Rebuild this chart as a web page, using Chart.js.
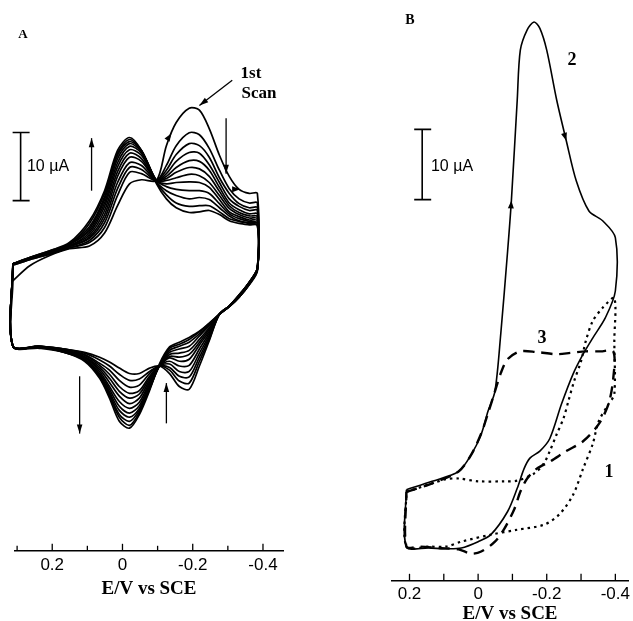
<!DOCTYPE html>
<html><head><meta charset="utf-8">
<script src="https://cdn.jsdelivr.net/npm/chart.js@4.4.1/dist/chart.umd.min.js"></script>
<style>
html,body{margin:0;padding:0;background:#fff;overflow:hidden;width:633px;height:621px;}
#wrap{position:relative;width:633px;height:621px;overflow:hidden;background:#fff;}
canvas{position:absolute;top:0;}
.t{position:absolute;font-family:"Liberation Serif","Times New Roman",serif;color:#000;transform:translate(-50%,-50%);white-space:nowrap;line-height:1;}
.s{font-family:"Liberation Sans",Arial,sans-serif;}
.b{font-weight:bold;}
</style></head><body>
<div id="wrap">
<canvas id="ca" width="316" height="640" style="left:0"></canvas>
<canvas id="cb" width="317" height="640" style="left:316px"></canvas>
<div class="t b" style="left:23px;top:33px;font-size:13px">A</div>
<div class="t b" style="left:251px;top:72px;font-size:17px">1st</div>
<div class="t b" style="left:259px;top:92px;font-size:17px">Scan</div>
<div class="t s" style="left:48px;top:166px;font-size:16px">10 µA</div>
<div class="t b" style="left:410px;top:20px;font-size:14px">B</div>
<div class="t s" style="left:452px;top:166px;font-size:16px">10 µA</div>
<div class="t b" style="left:572px;top:59px;font-size:18px">2</div>
<div class="t b" style="left:542px;top:337px;font-size:18px">3</div>
<div class="t b" style="left:609px;top:471px;font-size:18px">1</div>
</div>
<script>
// ---------- Panel A : repetitive scans (E in V vs SCE, I in µA, arbitrary zero) ----------
const aUpperE = [0.312,0.264,0.207,0.151,0.094,0.051,0.014,-0.020,-0.054,-0.097,-0.125,-0.153,-0.190,-0.219,-0.247,-0.276,-0.304,-0.332,-0.361,-0.384];
const aLowerE = [-0.384,-0.361,-0.332,-0.304,-0.276,-0.247,-0.219,-0.190,-0.162,-0.134,-0.105,-0.077,-0.048,-0.020,0.009,0.037,0.065,0.108,0.165,0.236,0.312];

const aUpperI = [
 [3.7,5.9,7.4,8.4,8.8,10.7,14.7,17.9,18.5,18.4,23.5,26.9,29.0,28.7,26.0,22.1,19.0,17.1,16.5,16.5],
 [6.0,6.8,7.6,8.5,9.3,11.5,16.2,19.6,19.4,18.4,20.6,23.5,25.4,25.1,23.1,19.9,17.2,15.7,15.1,15.1],
 [6.0,6.8,7.6,8.5,9.6,12.2,17.2,20.3,20.0,18.4,19.9,22.2,23.8,23.5,21.8,18.8,16.5,15.0,14.4,14.4],
 [6.2,6.9,7.8,8.7,9.9,12.8,18.1,21.0,20.6,18.4,19.4,21.2,22.5,22.4,20.7,18.1,15.7,14.6,14.0,14.0],
 [6.2,6.9,7.8,8.7,10.1,13.4,19.0,21.8,21.2,18.4,19.0,20.3,21.3,21.2,19.9,17.4,15.1,14.1,13.5,13.5],
 [6.2,6.9,7.8,8.8,10.4,14.0,19.7,22.4,21.6,18.4,18.7,19.6,20.3,20.1,19.0,16.8,14.7,13.7,13.2,13.1],
 [6.2,6.9,7.8,8.8,10.7,14.6,20.4,22.9,22.1,18.4,18.4,18.8,19.3,19.1,18.1,16.2,14.3,13.4,12.9,12.8],
 [6.2,6.9,7.9,9.0,11.0,15.1,21.0,23.4,22.4,18.4,17.9,18.1,18.2,18.1,17.4,15.6,13.8,13.1,12.6,12.5],
 [6.2,6.9,7.9,9.0,11.3,15.6,21.6,23.8,22.6,18.4,17.5,17.1,16.9,16.9,16.5,15.0,13.5,12.8,12.4,12.2],
 [6.2,7.1,7.9,9.1,11.6,16.0,22.1,24.1,22.8,18.2,16.9,16.2,15.7,15.9,15.6,14.4,13.2,12.5,12.2,12.1],
 [6.2,7.1,8.1,9.1,12.1,16.5,22.4,24.4,22.8,18.1,16.3,15.1,14.6,14.7,14.7,13.8,12.8,12.4,12.1,11.9],
 [6.2,7.1,8.1,9.3,12.5,16.9,22.8,24.7,22.8,17.9,15.7,14.4,13.7,13.8,14.0,13.4,12.5,12.1,11.9,11.8]
];
const aLowerI = [
 [5.6,3.5,1.6,0.0,-1.2,-5.1,-8.8,-12.2,-11.8,-9.9,-8.8,-9.1,-9.9,-9.9,-9.1,-8.2,-7.5,-6.8,-6.3,-5.9,-5.9],
 [5.6,3.5,1.6,0.0,-1.2,-4.9,-8.1,-11.3,-11.0,-9.4,-8.8,-9.6,-10.7,-10.9,-10.0,-8.8,-7.9,-6.9,-6.3,-5.9,-5.9],
 [5.6,3.5,1.6,0.0,-1.2,-4.6,-7.5,-10.4,-10.3,-9.0,-8.8,-9.9,-11.6,-11.9,-10.9,-9.4,-8.4,-7.1,-6.3,-5.9,-5.9],
 [5.6,3.5,1.6,0.0,-1.2,-4.3,-6.9,-9.6,-9.6,-8.5,-8.8,-10.3,-12.4,-12.8,-11.8,-10.0,-8.7,-7.2,-6.5,-5.9,-5.9],
 [5.4,3.4,1.5,0.0,-1.2,-4.0,-6.3,-8.7,-8.8,-8.1,-8.8,-10.6,-12.9,-13.5,-12.5,-10.6,-9.0,-7.4,-6.5,-5.9,-5.9],
 [5.4,3.4,1.5,0.0,-1.2,-3.7,-5.7,-7.8,-8.1,-7.6,-8.8,-10.9,-13.5,-14.3,-13.2,-11.2,-9.3,-7.5,-6.5,-6.0,-5.9],
 [5.4,3.4,1.5,0.0,-1.2,-3.4,-5.3,-7.1,-7.5,-7.4,-8.8,-11.2,-14.1,-15.0,-14.0,-11.8,-9.6,-7.6,-6.6,-6.0,-5.9],
 [5.4,3.4,1.5,-0.1,-1.2,-3.2,-4.9,-6.5,-6.9,-7.1,-8.8,-11.5,-14.6,-15.7,-14.7,-12.2,-9.9,-7.8,-6.6,-6.0,-5.9],
 [5.3,3.2,1.3,-0.1,-1.2,-2.9,-4.4,-5.9,-6.3,-6.8,-8.8,-11.8,-15.0,-16.3,-15.3,-12.6,-10.1,-7.8,-6.6,-6.0,-5.9],
 [5.3,3.2,1.3,-0.1,-1.2,-2.8,-4.1,-5.3,-5.9,-6.5,-8.8,-12.1,-15.3,-16.9,-15.9,-12.9,-10.3,-7.9,-6.8,-6.0,-5.9],
 [5.3,3.2,1.3,-0.1,-1.2,-2.6,-3.8,-4.9,-5.6,-6.2,-8.7,-12.2,-15.6,-17.5,-16.3,-13.2,-10.4,-7.9,-6.8,-6.0,-5.9],
 [5.1,3.1,1.3,-0.1,-1.2,-2.5,-3.7,-4.6,-5.3,-6.0,-8.5,-12.4,-15.9,-17.9,-16.9,-13.5,-10.6,-8.1,-6.8,-6.2,-5.9]
];

// ---------- Panel B : curves 1 (dotted), 2 (solid), 3 (dashed) ----------
const b2E = [0.209,0.134,0.057,0.020,-0.009,-0.029,-0.049,-0.066,-0.086,-0.097,-0.114,-0.123,-0.143,-0.163,-0.180,-0.200,-0.229,-0.257,-0.286,-0.323,-0.363,-0.400,-0.400,-0.371,-0.334,-0.306,-0.277,-0.243,-0.209,-0.180,-0.151,-0.134,-0.114,-0.086,-0.037,0.000,0.049,0.094,0.143,0.209];
const b2I = [-12.6,-11.4,-10.0,-7.6,-4.7,-1.4,1.4,9.6,21.4,28.6,42.9,50.0,52.9,54.0,53.1,50.0,42.9,37.1,31.4,27.1,25.7,23.3,15.7,11.9,9.0,6.7,3.9,-0.4,-5.3,-7.1,-8.1,-9.6,-12.4,-15.7,-19.0,-20.0,-20.9,-21.0,-20.9,-20.7];
const b3E = [0.209,0.134,0.057,0.020,-0.009,-0.029,-0.049,-0.066,-0.086,-0.123,-0.171,-0.229,-0.271,-0.314,-0.357,-0.394,-0.394,-0.380,-0.351,-0.306,-0.257,-0.209,-0.171,-0.143,-0.123,-0.106,-0.077,-0.049,-0.009,0.020,0.057,0.114,0.171,0.209];
const b3I = [-12.9,-11.7,-10.0,-7.6,-4.6,-1.7,1.4,4.0,6.0,7.1,7.0,6.7,6.9,7.1,7.1,7.1,3.3,-0.4,-3.3,-5.7,-7.1,-8.6,-9.6,-11.0,-12.9,-15.3,-18.1,-20.0,-21.4,-21.7,-21.1,-20.9,-20.7,-20.7];
const b1E = [0.209,0.134,0.094,0.057,0.000,-0.077,-0.114,-0.163,-0.191,-0.209,-0.229,-0.249,-0.263,-0.280,-0.300,-0.314,-0.334,-0.363,-0.397,-0.397,-0.397,-0.380,-0.351,-0.334,-0.306,-0.277,-0.237,-0.191,-0.114,-0.037,0.049,0.094,0.143,0.209];
const b1I = [-12.9,-11.7,-11.1,-11.0,-11.4,-11.4,-11.3,-10.3,-8.9,-7.1,-4.7,-2.4,0.0,2.9,5.7,8.6,11.4,13.3,14.7,8.6,1.0,-0.4,-2.9,-6.1,-9.6,-13.3,-16.1,-17.6,-18.3,-19.0,-20.0,-20.7,-20.7,-20.7];

const tickLabelsShown = [2, 0, -2, -4]; // tenths of a volt that carry a label

function pts(E, I){ return E.map((e,k)=>({x:e, y:I[k]})); }
function closed(p){ return p.concat([p[0]]); }

const SERIF = "'Liberation Serif','Times New Roman',serif";
const SANS = "'Liberation Sans',Arial,sans-serif";

const deco = {
  id:'deco',
  afterDatasetsDraw(chart, args, o){
    const {ctx} = chart, xs = chart.scales.x, ys = chart.scales.y;
    const P = (e,i)=>[xs.getPixelForValue(e), ys.getPixelForValue(i)];
    ctx.save();
    ctx.strokeStyle = '#000'; ctx.fillStyle = '#000'; ctx.lineCap = 'butt'; ctx.setLineDash([]);
    const bot = chart.chartArea.bottom;
    ctx.lineWidth = 1.3;
    xs.ticks.forEach(t=>{
      const px = xs.getPixelForValue(t.value);
      const major = tickLabelsShown.includes(Math.round(t.value*10));
      ctx.beginPath(); ctx.moveTo(px, bot); ctx.lineTo(px, bot-(major?o.tMaj:o.tMin)); ctx.stroke();
    });
    const [sx, sy0] = P(o.bar[0], o.bar[1]);
    const [, sy1] = P(o.bar[0], o.bar[1]+10);
    ctx.lineWidth = 1.6;
    ctx.beginPath();
    ctx.moveTo(sx, sy0); ctx.lineTo(sx, sy1);
    ctx.moveTo(sx-8, sy0); ctx.lineTo(sx+9, sy0);
    ctx.moveTo(sx-8, sy1); ctx.lineTo(sx+9, sy1);
    ctx.stroke();
    const head = (x, y, dx, dy, L, W)=>{
      const n = Math.hypot(dx,dy); dx/=n; dy/=n;
      ctx.beginPath();
      ctx.moveTo(x, y);
      ctx.lineTo(x-dx*L-dy*W, y-dy*L+dx*W);
      ctx.lineTo(x-dx*L+dy*W, y-dy*L-dx*W);
      ctx.closePath(); ctx.fill();
    };
    ctx.lineWidth = 1.3;
    (o.arrows||[]).forEach(a=>{
      const [x1,y1] = P(a[0],a[1]); const [x2,y2] = P(a[2],a[3]);
      ctx.beginPath(); ctx.moveTo(x1,y1); ctx.lineTo(x2,y2); ctx.stroke();
      head(x2,y2,x2-x1,y2-y1,9,2.8);
    });
    (o.heads||[]).forEach(h=>{
      const [x,y] = P(h[0],h[1]);
      head(x,y,h[2],h[3],8,3);
    });
    ctx.restore();
  }
};

function makeOpts(c){
  return {
    responsive:false, animation:false, events:[],
    layout:{padding:c.pad},
    plugins:{legend:{display:false}, tooltip:{enabled:false}, deco:c.deco},
    elements:{point:{radius:0}, line:{tension:0.3, borderColor:'#000', fill:false}},
    scales:{
      x:{type:'linear', reverse:true, min:c.xmin, max:c.xmax,
        ticks:{stepSize:0.1, includeBounds:false, autoSkip:false, maxRotation:0, padding:c.tp, color:'#000',
          font:{family:SANS, size:17},
          callback:(v)=>{ const k=Math.round(v*10); return tickLabelsShown.includes(k) ? (k===0?'0':(k/10).toFixed(1)) : ''; }},
        grid:{display:false, drawTicks:false},
        border:{display:true, color:'#000', width:1.6},
        title:{display:true, text:'E/V vs SCE', color:'#000', font:{family:SERIF, size:19, weight:'bold'}, padding:{top:c.ttp, bottom:0}}
      },
      y:{display:false, min:c.ymin, max:c.ymax}
    }
  };
}

const dsA = aUpperI.map((up, k)=>({
  data: closed(pts(aUpperE, up).concat(pts(aLowerE, aLowerI[k]))),
  showLine:true, clip:false, borderWidth: 1.7, borderColor:'#000'
}));
new Chart(document.getElementById('ca'), {
  type:'scatter', data:{datasets:dsA}, plugins:[deco],
  options: makeOpts({
    pad:{left:15, right:33, top:0, bottom:40},
    xmin:-0.457, xmax:0.306, ymin:-35.88, ymax:44.85, tp:4, ttp:-2,
    deco:{ tMaj:7, tMin:5, bar:[0.290, 15.44],
      arrows:[[0.088,16.9,0.088,24.6],[-0.295,27.5,-0.295,19.4],[0.122,-10.3,0.122,-18.7],[-0.125,-17.2,-0.125,-11.3],[-0.3125,33.1,-0.219,29.4]],
      heads:[[-0.139,25.3,1,-1.6],[-0.335,17.1,1,0]] }
  })
});

const dsB = [
  {data: closed(pts(b2E,b2I)), showLine:true, clip:false, borderWidth:1.6, borderColor:'#000'},
  {data: closed(pts(b3E,b3I)), showLine:true, clip:false, borderWidth:2.4, borderColor:'#000', borderDash:[11,7]},
  {data: closed(pts(b1E,b1I)), showLine:true, clip:false, borderWidth:2.2, borderColor:'#000', borderDash:[2.5,4]}
];
new Chart(document.getElementById('cb'), {
  type:'scatter', data:{datasets:dsB}, plugins:[deco],
  options: makeOpts({
    pad:{left:76, right:0, top:0, bottom:15},
    xmin:-0.437, xmax:0.251, ymin:-25.57, ymax:57.14, tp:3, ttp:-5,
    deco:{ tMaj:7, tMin:7, bar:[0.163, 28.71],
      heads:[[-0.097,28.6,0.07,-1],[-0.257,37.1,0.3,1]] }
  })
});
</script>
</body></html>
